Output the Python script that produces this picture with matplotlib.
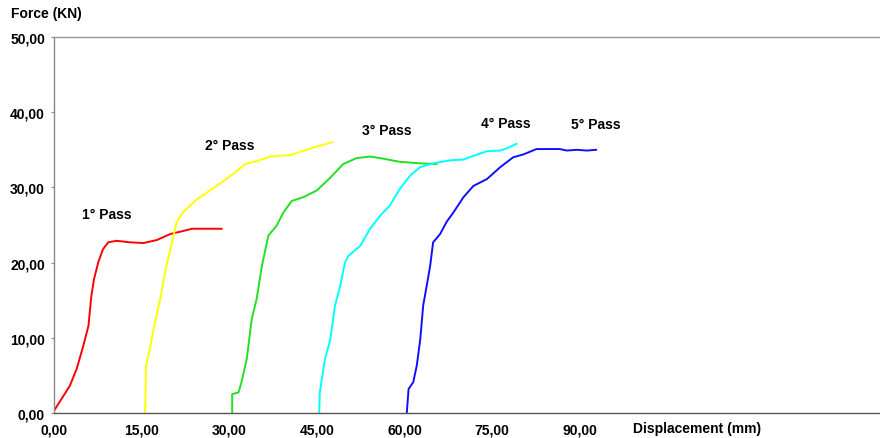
import numpy as np
import matplotlib
matplotlib.use("Agg")
import matplotlib.pyplot as plt

plt.rcParams['font.family'] = ['Liberation Sans', 'DejaVu Sans']

# passes: displacement (mm) / force (kN)
x1 = [0.0, 2.7, 3.9, 5.0, 5.9, 6.4, 6.85, 7.6, 8.4, 9.3, 10.7, 13.0, 15.3, 17.6, 19.9, 22.1, 23.6, 28.7]
y1 = [0.3, 3.6, 5.9, 8.9, 11.6, 15.6, 17.8, 20.1, 21.8, 22.7, 22.9, 22.7, 22.6, 23.0, 23.8, 24.2, 24.5, 24.5]

x2 = [15.6, 15.75, 16.4, 17.3, 18.2, 19.0, 20.2, 21.0, 22.1, 24.3, 25.2, 28.4, 30.7, 32.7, 34.7, 37.0, 40.4, 42.1, 44.4, 47.6]
y2 = [0.0, 6.3, 8.5, 12.1, 15.2, 18.7, 22.7, 25.4, 26.7, 28.3, 28.8, 30.5, 31.8, 33.1, 33.5, 34.1, 34.3, 34.7, 35.3, 36.0]

x3 = [30.5, 30.5, 31.6, 32.1, 33.0, 33.85, 34.7, 35.6, 36.7, 38.1, 39.3, 40.7, 42.7, 45.0, 47.3, 49.5, 51.8, 54.1, 55.8, 59.2, 62.7, 65.5]
y3 = [0.0, 2.5, 2.75, 4.1, 7.2, 12.5, 15.2, 19.6, 23.6, 24.9, 26.7, 28.2, 28.7, 29.6, 31.3, 33.1, 33.9, 34.1, 33.9, 33.4, 33.2, 33.1]

x4 = [45.4, 45.5, 46.4, 47.3, 48.1, 49.0, 49.8, 50.4, 52.4, 54.1, 55.8, 57.5, 59.2, 61.0, 62.7, 64.9, 67.8, 70.1, 71.8, 74.1, 76.4, 77.5, 79.2]
y4 = [0.0, 2.75, 7.2, 9.8, 14.3, 16.9, 20.0, 20.9, 22.2, 24.5, 26.2, 27.6, 29.8, 31.6, 32.7, 33.2, 33.6, 33.7, 34.2, 34.8, 34.9, 35.2, 35.8]

x5 = [60.4, 60.7, 61.5, 62.1, 62.7, 63.2, 63.8, 64.4, 64.9, 66.1, 67.2, 68.4, 70.1, 71.8, 74.1, 76.4, 78.6, 80.4, 82.6, 86.6, 87.8, 89.5, 91.2, 92.8]
y5 = [0.1, 3.2, 4.1, 6.3, 9.8, 14.3, 16.9, 19.6, 22.7, 23.8, 25.4, 26.7, 28.7, 30.2, 31.1, 32.7, 34.0, 34.4, 35.1, 35.1, 34.9, 35.0, 34.9, 35.0]

labels = ['1° Pass', '2° Pass', '3° Pass', '4° Pass', '5° Pass']
label_pos = [(4.8, 26.5), (25.8, 35.6), (52.7, 37.6), (73.1, 38.6), (88.5, 38.4)]
colors = ['#ff0000', '#ffff00', '#22e022', '#00ffff', '#1010ff']

xticks = [0, 15, 30, 45, 60, 75, 90]
yticks = [0, 10, 20, 30, 40, 50]

fig = plt.figure(figsize=(8.8, 4.39), dpi=100)
ax = fig.add_axes([54/880, 1-414/439, 1-54/880, (414-38)/439])

for xs, ys, c in zip([x1, x2, x3, x4, x5], [y1, y2, y3, y4, y5], colors):
    ax.plot(xs, ys, color=c, lw=1.4)

for (tx, ty), t in zip(label_pos, labels):
    ax.text(tx, ty, t, fontsize=10, fontweight='bold', va='center', ha='left')

ax.set_xlim(0, 141.4)
ax.set_ylim(0, 50)
ax.set_xticks(xticks)
ax.set_xticklabels(['%.2f' % v for v in xticks])
ax.set_xticklabels([('%.2f' % v).replace('.', ',') for v in xticks])
ax.set_yticks(yticks)
ax.set_yticklabels([('%.2f' % v).replace('.', ',') for v in yticks])
ax.tick_params(axis='x', length=0, pad=7, labelsize=10)
ax.tick_params(axis='y', length=2.5, width=0.8, color='#888888', pad=4, labelsize=10)
for lab in ax.get_xticklabels() + ax.get_yticklabels():
    lab.set_fontweight('bold')

ax.spines['right'].set_visible(False)
ax.spines['left'].set_color('#888888')
ax.spines['top'].set_color('#999999')
ax.spines['bottom'].set_color('#555555')
for s in ['left', 'top', 'bottom']:
    ax.spines[s].set_linewidth(1.0)

fig.text(11/880, 1-14/439, 'Force (KN)', fontsize=10, fontweight='bold', va='center', ha='left')
fig.text(633/880, 1-429/439, 'Displacement (mm)', fontsize=10, fontweight='bold', va='center', ha='left')

fig.savefig('out.png', dpi=100)
